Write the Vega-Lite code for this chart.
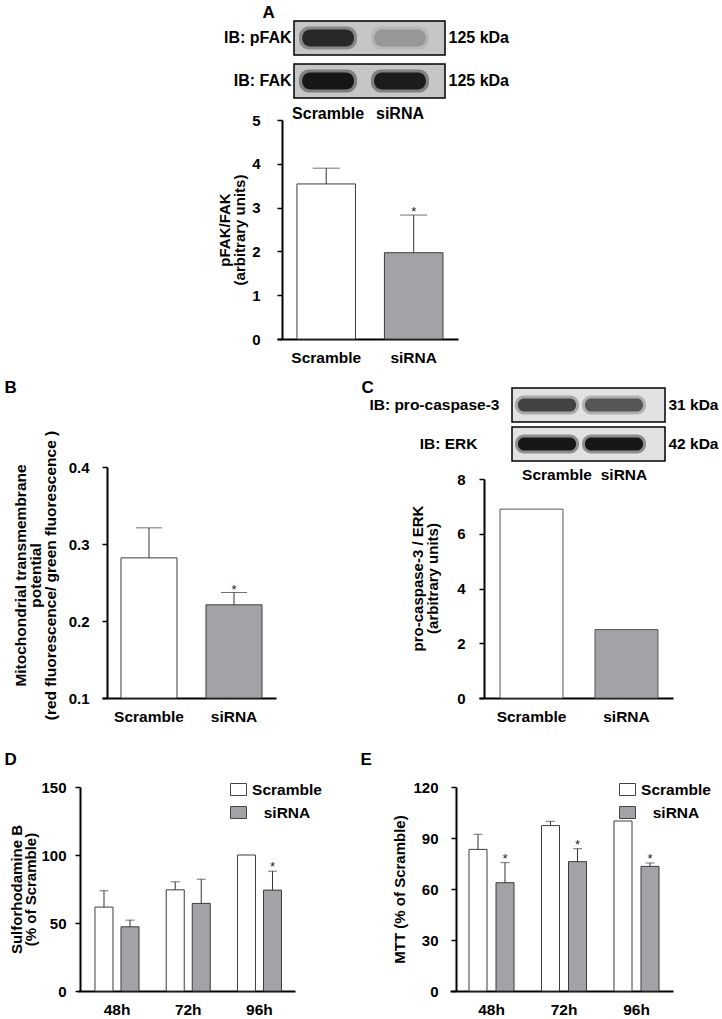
{
  "$schema": "https://vega.github.io/schema/vega-lite/v6.json",
  "width": 722,
  "height": 1019,
  "autosize": {"type": "none"},
  "padding": 0,
  "background": "white",
  "config": {
    "view": {"stroke": null},
    "font": "Liberation Sans",
    "axis": {
      "grid": false, "domainColor": "#000", "domainWidth": 2, "tickColor": "#000", "tickWidth": 1.5, "tickSize": 5,
      "labelFont": "Liberation Sans", "labelFontSize": 15, "labelFontWeight": "bold", "labelColor": "#000",
      "titleFont": "Liberation Sans", "titleFontSize": 15, "titleFontWeight": "bold", "titleColor": "#000",
      "labelOverlap": false, "labelFlush": false, "labelBound": false
    },
    "legend": {"labelFont": "Liberation Sans", "labelFontSize": 15.5, "labelFontWeight": "bold", "labelColor": "#000"}
  },
  "datasets": {
    "A": [
      {"lane": "Scramble", "value": 3.54, "upper": 3.9, "sig": ""},
      {"lane": "siRNA", "value": 1.97, "upper": 2.83, "sig": "*"}
    ],
    "B": [
      {"lane": "Scramble", "value": 0.282, "upper": 0.321, "sig": ""},
      {"lane": "siRNA", "value": 0.221, "upper": 0.237, "sig": "*"}
    ],
    "C": [
      {"lane": "Scramble", "value": 6.9},
      {"lane": "siRNA", "value": 2.5}
    ],
    "D": [
      {"time": "48h", "group": "Scramble", "value": 61.7, "upper": 73.7, "sig": ""},
      {"time": "48h", "group": "siRNA", "value": 47.2, "upper": 52.1, "sig": ""},
      {"time": "72h", "group": "Scramble", "value": 74.4, "upper": 80.3, "sig": ""},
      {"time": "72h", "group": "siRNA", "value": 64.4, "upper": 82.2, "sig": ""},
      {"time": "96h", "group": "Scramble", "value": 100, "upper": null, "sig": ""},
      {"time": "96h", "group": "siRNA", "value": 74.2, "upper": 88.1, "sig": "*"}
    ],
    "E": [
      {"time": "48h", "group": "Scramble", "value": 83.3, "upper": 92.2, "sig": ""},
      {"time": "48h", "group": "siRNA", "value": 63.7, "upper": 75.5, "sig": "*"},
      {"time": "72h", "group": "Scramble", "value": 97.3, "upper": 99.8, "sig": ""},
      {"time": "72h", "group": "siRNA", "value": 76.1, "upper": 83.7, "sig": "*"},
      {"time": "96h", "group": "Scramble", "value": 100, "upper": null, "sig": ""},
      {"time": "96h", "group": "siRNA", "value": 73.3, "upper": 75.3, "sig": "*"}
    ],
    "blotArows": [{"blot": "IB: pFAK"}, {"blot": "IB: FAK"}],
    "blotA": [
      {"lane": "Scramble", "blot": "IB: pFAK", "intensity": 0.85},
      {"lane": "siRNA", "blot": "IB: pFAK", "intensity": 0.2},
      {"lane": "Scramble", "blot": "IB: FAK", "intensity": 1},
      {"lane": "siRNA", "blot": "IB: FAK", "intensity": 0.95}
    ],
    "blotCrows": [{"blot": "IB: pro-caspase-3"}, {"blot": "IB: ERK"}],
    "blotC": [
      {"lane": "Scramble", "blot": "IB: pro-caspase-3", "intensity": 0.7},
      {"lane": "siRNA", "blot": "IB: pro-caspase-3", "intensity": 0.6},
      {"lane": "Scramble", "blot": "IB: ERK", "intensity": 1},
      {"lane": "siRNA", "blot": "IB: ERK", "intensity": 1}
    ]
  },
  "layer": [
    {
      "data": {"name": "blotArows"},
      "mark": {"type": "rect", "fill": "#c6c6c6", "stroke": "#000", "strokeWidth": 1.5},
      "encoding": {
        "x": {"datum": "lanes", "type": "nominal", "scale": {"range": [294, 445], "paddingInner": 0, "paddingOuter": 0}, "axis": null},
        "y": {"field": "blot", "type": "nominal", "scale": {"domain": ["IB: pFAK", "IB: FAK"], "range": [21, 98], "paddingInner": 0.21, "paddingOuter": 0},
              "axis": {"orient": "left", "offset": -294, "domain": false, "ticks": false, "labelPadding": 3, "labelFontSize": 16, "title": null}}
      }
    },
    {
      "data": {"name": "blotA"},
      "mark": {"type": "rect", "fill": "#111", "cornerRadius": 10},
      "encoding": {
        "x": {"field": "lane", "type": "nominal", "scale": {"domain": ["Scramble", "siRNA"], "range": [294, 445], "paddingInner": 0.194, "paddingOuter": 0.146, "align": 0.238}, "axis": null},
        "y": {"field": "blot", "type": "nominal", "scale": {"domain": ["IB: pFAK", "IB: FAK"], "range": [21, 98], "paddingInner": 0.465, "paddingOuter": 0.128}, "axis": null},
        "opacity": {"field": "intensity", "type": "quantitative", "scale": {"domain": [0, 1], "range": [0, 0.4]}, "legend": null}
      }
    },
    {
      "data": {"name": "blotA"},
      "mark": {"type": "rect", "fill": "#111", "cornerRadius": 8},
      "encoding": {
        "x": {"field": "lane", "type": "nominal", "scale": {"domain": ["Scramble", "siRNA"], "range": [294, 445], "paddingInner": 0.28, "paddingOuter": 0.19, "align": 0.3},
              "axis": {"orient": "bottom", "offset": -921, "domain": false, "ticks": false, "labelPadding": 7, "labelFontSize": 16, "labelAngle": 0, "title": null}},
        "y": {"field": "blot", "type": "nominal", "scale": {"domain": ["IB: pFAK", "IB: FAK"], "range": [21, 98], "paddingInner": 0.605, "paddingOuter": 0.198},
              "axis": {"orient": "right", "offset": -277, "domain": false, "ticks": false, "labelPadding": 3, "labelFontSize": 16, "labelExpr": "'125 kDa'", "title": null}},
        "opacity": {"field": "intensity", "type": "quantitative", "scale": {"domain": [0, 1], "range": [0, 0.95]}, "legend": null}
      }
    },
    {
      "data": {"name": "blotCrows"},
      "mark": {"type": "rect", "fill": "#e2e2e2", "stroke": "#000", "strokeWidth": 1.5},
      "encoding": {
        "x": {"datum": "lanes", "type": "nominal", "scale": {"range": [512, 665], "paddingInner": 0, "paddingOuter": 0}, "axis": null},
        "y": {"field": "blot", "type": "nominal", "scale": {"domain": ["IB: pro-caspase-3", "IB: ERK"], "range": [388, 461], "paddingInner": 0.128, "paddingOuter": 0},
              "axis": {"orient": "left", "offset": -512, "domain": false, "ticks": false, "labelFontSize": 15.5, "title": null,
                       "labelPadding": {"condition": {"test": "datum.value == 'IB: ERK'", "value": 35}, "value": 13}}}
      }
    },
    {
      "data": {"name": "blotC"},
      "mark": {"type": "rect", "fill": "#111", "cornerRadius": 9},
      "encoding": {
        "x": {"field": "lane", "type": "nominal", "scale": {"domain": ["Scramble", "siRNA"], "range": [512, 665], "paddingInner": 0.045, "paddingOuter": 0.164, "align": 0.136}, "axis": null},
        "y": {"field": "blot", "type": "nominal", "scale": {"domain": ["IB: pro-caspase-3", "IB: ERK"], "range": [388, 461], "paddingInner": 0.513, "paddingOuter": 0.192}, "axis": null},
        "opacity": {"field": "intensity", "type": "quantitative", "scale": {"domain": [0, 1], "range": [0, 0.4]}, "legend": null}
      }
    },
    {
      "data": {"name": "blotC"},
      "mark": {"type": "rect", "fill": "#111", "cornerRadius": 6},
      "encoding": {
        "x": {"field": "lane", "type": "nominal", "scale": {"domain": ["Scramble", "siRNA"], "range": [512, 665], "paddingInner": 0.134, "paddingOuter": 0.209, "align": 0.214},
              "axis": {"orient": "bottom", "offset": -558, "domain": false, "ticks": false, "labelPadding": 6, "labelOffset": 10, "labelFontSize": 15.5, "labelAngle": 0, "title": null}},
        "y": {"field": "blot", "type": "nominal", "scale": {"domain": ["IB: pro-caspase-3", "IB: ERK"], "range": [388, 461], "paddingInner": 0.667, "paddingOuter": 0.269},
              "axis": {"orient": "right", "offset": -57, "domain": false, "ticks": false, "labelPadding": 3, "labelFontSize": 15.5, "title": null,
                       "labelExpr": "datum.value == 'IB: ERK' ? '42 kDa' : '31 kDa'"}},
        "opacity": {"field": "intensity", "type": "quantitative", "scale": {"domain": [0, 1], "range": [0, 0.95]}, "legend": null}
      }
    },
    {
      "data": {"name": "A"},
      "encoding": {
        "x": {"field": "lane", "type": "nominal", "scale": {"domain": ["Scramble", "siRNA"], "range": [277, 458], "paddingInner": 0.331, "paddingOuter": 0.2, "align": 0.57},
              "axis": {"orient": "bottom", "offset": -680, "ticks": false, "labelPadding": 11, "labelFontSize": 15.5, "labelAngle": 0,
                       "title": "A", "titleX": 262, "titleY": -327, "titleAngle": 0, "titleAlign": "left", "titleBaseline": "middle", "titleFontSize": 17}},
        "y": {"field": "value", "type": "quantitative", "scale": {"domain": [0, 5], "range": [339, 120], "nice": false, "zero": false},
              "axis": {"orient": "left", "offset": -282, "values": [0, 1, 2, 3, 4, 5], "labelPadding": 17,
                       "title": ["pFAK/FAK", "(arbitrary units)"], "titleX": -58, "titleBaseline": "middle", "titleLineHeight": 15}}
      },
      "layer": [
        {
          "mark": {"type": "bar", "stroke": "#3c3c3c", "strokeWidth": 1},
          "encoding": {
            "y2": {"datum": 0},
            "fill": {"field": "lane", "type": "nominal", "scale": {"domain": ["Scramble", "siRNA"], "range": ["#ffffff", "#a3a3a7"]}, "legend": null}
          }
        },
        {
          "mark": {"type": "rule", "color": "#333", "strokeWidth": 1},
          "encoding": {"y2": {"field": "upper"}}
        },
        {
          "mark": {"type": "tick", "color": "#333", "thickness": 1, "size": 27},
          "encoding": {
            "y": {"field": "upper", "type": "quantitative", "scale": {"domain": [0, 5], "range": [339, 120], "nice": false, "zero": false},
                  "axis": {"orient": "left", "offset": -282, "values": [0, 1, 2, 3, 4, 5], "labelPadding": 17,
                           "title": ["pFAK/FAK", "(arbitrary units)"], "titleX": -58, "titleBaseline": "middle", "titleLineHeight": 15}}
          }
        },
        {
          "mark": {"type": "text", "fontSize": 13, "fontWeight": "normal", "baseline": "alphabetic", "dy": 1, "color": "#222"},
          "encoding": {
            "y": {"field": "upper", "type": "quantitative", "scale": {"domain": [0, 5], "range": [339, 120], "nice": false, "zero": false},
                  "axis": {"orient": "left", "offset": -282, "values": [0, 1, 2, 3, 4, 5], "labelPadding": 17,
                           "title": ["pFAK/FAK", "(arbitrary units)"], "titleX": -58, "titleBaseline": "middle", "titleLineHeight": 15}},
            "text": {"field": "sig"}
          }
        }
      ]
    },
    {
      "data": {"name": "B"},
      "encoding": {
        "x": {"field": "lane", "type": "nominal", "scale": {"domain": ["Scramble", "siRNA"], "range": [102, 276], "paddingInner": 0.341, "paddingOuter": 0.194, "align": 0.576},
              "axis": {"orient": "bottom", "offset": -321, "ticks": false, "labelPadding": 11, "labelFontSize": 15.5, "labelAngle": 0,
                       "title": "B", "titleX": 4, "titleY": -311, "titleAngle": 0, "titleAlign": "left", "titleBaseline": "middle", "titleFontSize": 17}},
        "y": {"field": "value", "type": "quantitative", "scale": {"domain": [0.1, 0.4], "range": [698, 467], "nice": false, "zero": false},
              "axis": {"orient": "left", "offset": -107, "values": [0.1, 0.2, 0.3, 0.4], "format": ".1f", "labelPadding": 13,
                       "title": ["Mitochondrial transmembrane", "potential", "(red fluorescence/ green fluorescence )"], "titleX": -87, "titleY": 575, "titleBaseline": "middle", "titleLineHeight": 15, "titleFontSize": 15.5}}
      },
      "layer": [
        {
          "mark": {"type": "bar", "stroke": "#3c3c3c", "strokeWidth": 1},
          "encoding": {
            "y2": {"datum": 0.1},
            "fill": {"field": "lane", "type": "nominal", "scale": {"domain": ["Scramble", "siRNA"], "range": ["#ffffff", "#a3a3a7"]}, "legend": null}
          }
        },
        {
          "mark": {"type": "rule", "color": "#333", "strokeWidth": 1},
          "encoding": {"y2": {"field": "upper"}}
        },
        {
          "mark": {"type": "tick", "color": "#333", "thickness": 1, "size": 26},
          "encoding": {
            "y": {"field": "upper", "type": "quantitative", "scale": {"domain": [0.1, 0.4], "range": [698, 467], "nice": false, "zero": false},
                  "axis": {"orient": "left", "offset": -107, "values": [0.1, 0.2, 0.3, 0.4], "format": ".1f", "labelPadding": 13,
                           "title": ["Mitochondrial transmembrane", "potential", "(red fluorescence/ green fluorescence )"], "titleX": -87, "titleY": 575, "titleBaseline": "middle", "titleLineHeight": 15, "titleFontSize": 15.5}}
          }
        },
        {
          "mark": {"type": "text", "fontSize": 13, "fontWeight": "normal", "baseline": "alphabetic", "dy": 1, "color": "#222"},
          "encoding": {
            "y": {"field": "upper", "type": "quantitative", "scale": {"domain": [0.1, 0.4], "range": [698, 467], "nice": false, "zero": false},
                  "axis": {"orient": "left", "offset": -107, "values": [0.1, 0.2, 0.3, 0.4], "format": ".1f", "labelPadding": 13,
                           "title": ["Mitochondrial transmembrane", "potential", "(red fluorescence/ green fluorescence )"], "titleX": -87, "titleY": 575, "titleBaseline": "middle", "titleLineHeight": 15, "titleFontSize": 15.5}},
            "text": {"field": "sig"}
          }
        }
      ]
    },
    {
      "data": {"name": "C"},
      "mark": {"type": "bar", "stroke": "#555", "strokeWidth": 1},
      "encoding": {
        "x": {"field": "lane", "type": "nominal", "scale": {"domain": ["Scramble", "siRNA"], "range": [479, 673], "paddingInner": 0.337, "paddingOuter": 0.19, "align": 0.583},
              "axis": {"orient": "bottom", "offset": -321, "ticks": false, "labelPadding": 11, "labelFontSize": 15.5, "labelAngle": 0,
                       "title": "C", "titleX": 361, "titleY": -311, "titleAngle": 0, "titleAlign": "left", "titleBaseline": "middle", "titleFontSize": 17}},
        "y": {"field": "value", "type": "quantitative", "scale": {"domain": [0, 8], "range": [698, 479], "nice": false, "zero": false},
              "axis": {"orient": "left", "offset": -484, "values": [0, 2, 4, 6, 8], "labelPadding": 14,
                       "title": ["pro-caspase-3 / ERK", "(arbitrary units)"], "titleX": -67, "titleY": 578, "titleBaseline": "middle", "titleLineHeight": 15}},
        "y2": {"datum": 0},
        "fill": {"field": "lane", "type": "nominal", "scale": {"domain": ["Scramble", "siRNA"], "range": ["#ffffff", "#a3a3a7"]}, "legend": null}
      }
    },
    {
      "data": {"name": "D"},
      "encoding": {
        "x": {"field": "time", "type": "nominal", "scale": {"domain": ["48h", "72h", "96h"], "range": [78, 295], "paddingInner": 0.382, "paddingOuter": 0.214, "align": 0.557},
              "axis": {"orient": "bottom", "offset": -28, "ticks": false, "labelPadding": 11, "labelFontSize": 15.5, "labelAngle": 0,
                       "title": "D", "titleX": 4, "titleY": -232, "titleAngle": 0, "titleAlign": "left", "titleBaseline": "middle", "titleFontSize": 17}},
        "xOffset": {"field": "group", "type": "nominal", "scale": {"domain": ["Scramble", "siRNA"], "paddingInner": 0.3077, "paddingOuter": 0}},
        "y": {"field": "value", "type": "quantitative", "scale": {"domain": [0, 150], "range": [991, 787], "nice": false, "zero": false},
              "axis": {"orient": "left", "offset": -80, "values": [0, 50, 100, 150], "labelPadding": 9,
                       "title": ["Sulforhodamine B", "(% of Scramble)"], "titleX": -64, "titleBaseline": "middle", "titleLineHeight": 14}}
      },
      "layer": [
        {
          "mark": {"type": "bar", "stroke": "#3c3c3c", "strokeWidth": 1},
          "encoding": {
            "y2": {"datum": 0},
            "fill": {"field": "group", "type": "nominal", "scale": {"domain": ["Scramble", "siRNA"], "range": ["#ffffff", "#a3a3a7"]},
                     "legend": {"orient": "none", "legendX": 230, "legendY": 781, "title": null, "padding": 0,
                                "symbolType": "M-1,-0.75H1V0.75H-1Z", "symbolSize": 256, "symbolStrokeColor": "#444", "symbolStrokeWidth": 1,
                                "labelOffset": 40, "labelAlign": "center", "rowPadding": 6}}
          }
        },
        {
          "mark": {"type": "rule", "color": "#333", "strokeWidth": 1},
          "encoding": {"y2": {"field": "upper"}}
        },
        {
          "mark": {"type": "tick", "color": "#333", "thickness": 1, "size": 9},
          "encoding": {
            "y": {"field": "upper", "type": "quantitative", "scale": {"domain": [0, 150], "range": [991, 787], "nice": false, "zero": false},
                  "axis": {"orient": "left", "offset": -80, "values": [0, 50, 100, 150], "labelPadding": 9,
                           "title": ["Sulforhodamine B", "(% of Scramble)"], "titleX": -64, "titleBaseline": "middle", "titleLineHeight": 14}}
          }
        },
        {
          "mark": {"type": "text", "fontSize": 13, "fontWeight": "normal", "baseline": "alphabetic", "dy": 0, "color": "#222"},
          "encoding": {
            "y": {"field": "upper", "type": "quantitative", "scale": {"domain": [0, 150], "range": [991, 787], "nice": false, "zero": false},
                  "axis": {"orient": "left", "offset": -80, "values": [0, 50, 100, 150], "labelPadding": 9,
                           "title": ["Sulforhodamine B", "(% of Scramble)"], "titleX": -64, "titleBaseline": "middle", "titleLineHeight": 14}},
            "text": {"field": "sig"}
          }
        }
      ]
    },
    {
      "data": {"name": "E"},
      "encoding": {
        "x": {"field": "time", "type": "nominal", "scale": {"domain": ["48h", "72h", "96h"], "range": [450, 673], "paddingInner": 0.379, "paddingOuter": 0.2275, "align": 0.576},
              "axis": {"orient": "bottom", "offset": -28, "ticks": false, "labelPadding": 11, "labelFontSize": 15.5, "labelAngle": 0,
                       "title": "E", "titleX": 360, "titleY": -232, "titleAngle": 0, "titleAlign": "left", "titleBaseline": "middle", "titleFontSize": 17}},
        "xOffset": {"field": "group", "type": "nominal", "scale": {"domain": ["Scramble", "siRNA"], "paddingInner": 0.333, "paddingOuter": 0}},
        "y": {"field": "value", "type": "quantitative", "scale": {"domain": [0, 120], "range": [991, 787], "nice": false, "zero": false},
              "axis": {"orient": "left", "offset": -456, "values": [0, 30, 60, 90, 120], "labelPadding": 13,
                       "title": "MTT (% of Scramble)", "titleX": -57, "titleBaseline": "middle"}}
      },
      "layer": [
        {
          "mark": {"type": "bar", "stroke": "#3c3c3c", "strokeWidth": 1},
          "encoding": {
            "y2": {"datum": 0},
            "fill": {"field": "group", "type": "nominal", "scale": {"domain": ["Scramble", "siRNA"], "range": ["#ffffff", "#a3a3a7"]},
                     "legend": {"orient": "none", "legendX": 619, "legendY": 781, "title": null, "padding": 0,
                                "symbolType": "M-1,-0.75H1V0.75H-1Z", "symbolSize": 256, "symbolStrokeColor": "#444", "symbolStrokeWidth": 1,
                                "labelOffset": 40, "labelAlign": "center", "rowPadding": 6}}
          }
        },
        {
          "mark": {"type": "rule", "color": "#333", "strokeWidth": 1},
          "encoding": {"y2": {"field": "upper"}}
        },
        {
          "mark": {"type": "tick", "color": "#333", "thickness": 1, "size": 9},
          "encoding": {
            "y": {"field": "upper", "type": "quantitative", "scale": {"domain": [0, 120], "range": [991, 787], "nice": false, "zero": false},
                  "axis": {"orient": "left", "offset": -456, "values": [0, 30, 60, 90, 120], "labelPadding": 13,
                           "title": "MTT (% of Scramble)", "titleX": -57, "titleBaseline": "middle"}}
          }
        },
        {
          "mark": {"type": "text", "fontSize": 13, "fontWeight": "normal", "baseline": "alphabetic", "dy": 0, "color": "#222"},
          "encoding": {
            "y": {"field": "upper", "type": "quantitative", "scale": {"domain": [0, 120], "range": [991, 787], "nice": false, "zero": false},
                  "axis": {"orient": "left", "offset": -456, "values": [0, 30, 60, 90, 120], "labelPadding": 13,
                           "title": "MTT (% of Scramble)", "titleX": -57, "titleBaseline": "middle"}},
            "text": {"field": "sig"}
          }
        }
      ]
    }
  ],
  "resolve": {
    "scale": {"x": "independent", "y": "independent", "xOffset": "independent", "fill": "independent", "opacity": "independent"},
    "axis": {"x": "independent", "y": "independent"},
    "legend": {"fill": "independent", "opacity": "independent"}
  }
}
